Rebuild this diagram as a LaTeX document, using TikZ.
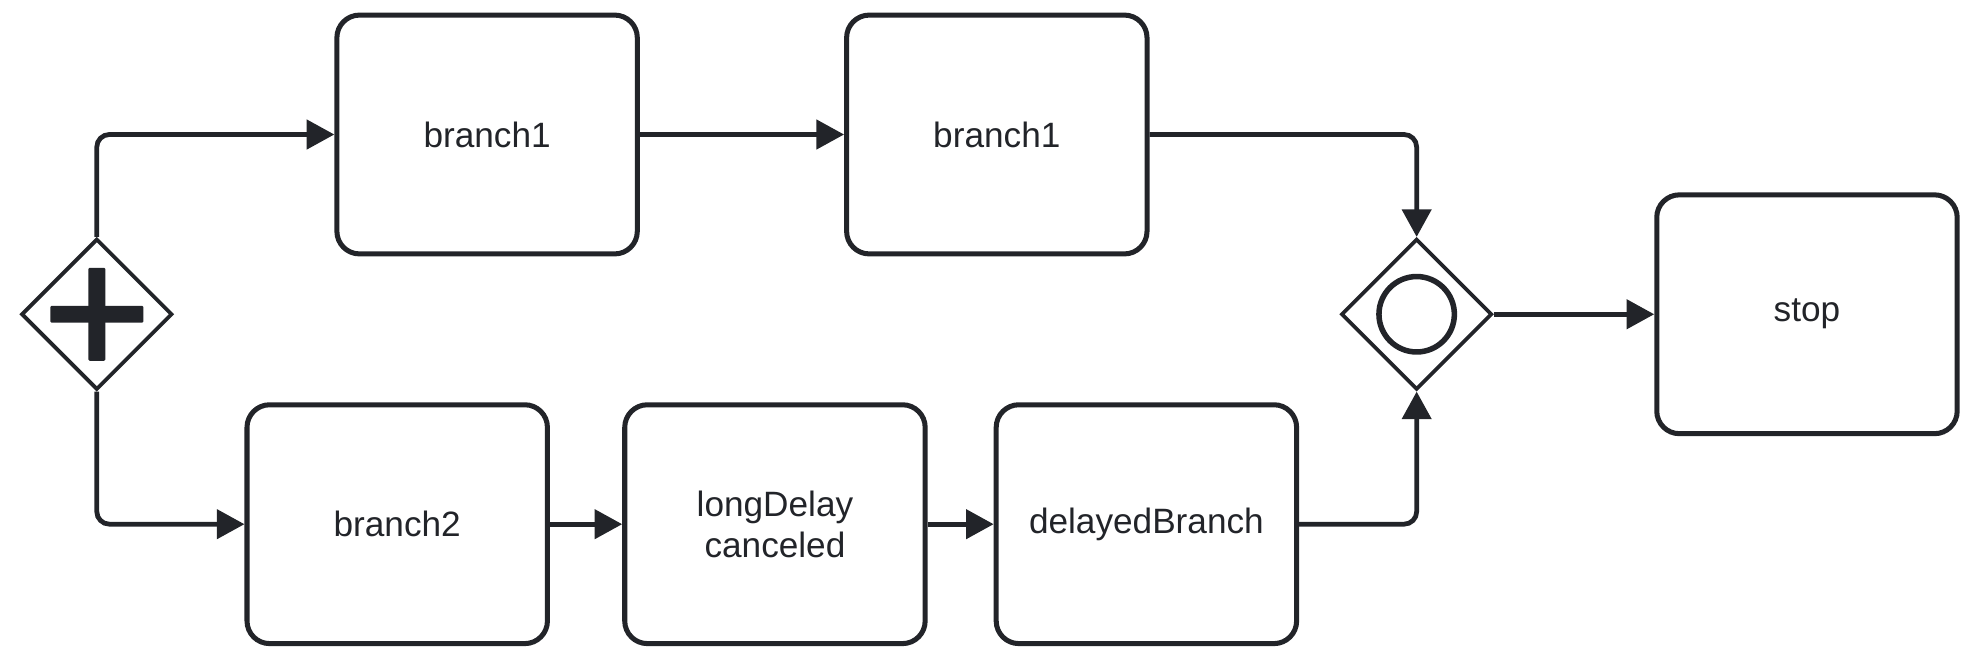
\documentclass[tikz,border=0pt]{standalone}
\usepackage{fontspec}
\setmainfont{Liberation Sans}
\usepackage{tikz}
\definecolor{ink}{RGB}{34,36,41}
\usetikzlibrary{arrows.meta, shapes.geometric}

\begin{document}
\begin{tikzpicture}
[x=0.5pt, y=-0.5pt,
 task/.style={rectangle, draw=ink, line width=2pt, rounded corners=9pt, minimum width=119.5pt, minimum height=95pt, inner sep=0pt, align=center, text=ink, font=\fontsize{14}{16.5}\selectfont},
 gate/.style={diamond, draw=ink, line width=1.5pt, fill=white, minimum width=60pt, minimum height=60pt, inner sep=0pt},
 bar/.style={rectangle, fill=ink, inner sep=0pt, rounded corners=0.5pt},
 ->/.style={draw=ink, line width=1.9pt, rounded corners=5pt, arrows={-{Triangle[length=11pt, width=11.5pt]}}}]
\useasboundingbox (0,0) rectangle (1568,525);
\node[gate] (fork) at (77, 250) {};
\node[bar, minimum width=37pt, minimum height=6.75pt] (forkh) at (77, 250) {};
\node[bar, minimum width=6.75pt, minimum height=37pt] (forkv) at (77, 250) {};
\node[gate] (join) at (1127, 250) {};
\node[circle, draw=ink, line width=2.2pt, minimum size=30pt, inner sep=0pt] (joinc) at (1127, 250) {};
\node[task] (br1) at (387.5, 107) {branch1};
\node[task] (br1b) at (793, 107) {branch1};
\node[task] (br2) at (316, 417) {branch2};
\node[task] (delay) at (616.5, 417) {longDelay\\canceled};
\node[task] (dbranch) at (912, 417) {delayedBranch};
\node[task] (stop) at (1437.5, 250) {stop};
\draw[->] (fork.north) |- (br1.west);
\draw[->] (fork.south) |- (br2.west);
\draw[->] (br1.east) -- (br1b.west);
\draw[->] (br1b.east) -| (join.north);
\draw[->] (br2.east) -- (delay.west);
\draw[->] (delay.east) -- (dbranch.west);
\draw[->] (dbranch.east) -| (join.south);
\draw[->] (join.east) -- (stop.west);

\end{tikzpicture}
\end{document}
